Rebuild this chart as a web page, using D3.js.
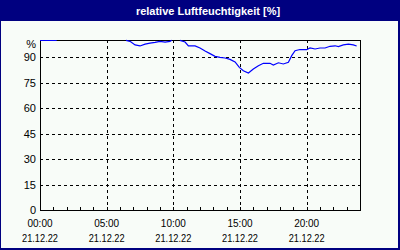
<!DOCTYPE html>
<html><head><meta charset="utf-8">
<script src="https://cdn.jsdelivr.net/npm/d3@7"></script>
<style>
html,body{margin:0;padding:0;background:#fff;}
svg{display:block;}
text{font-family:"Liberation Sans",sans-serif;}
</style>
</head><body>
<svg id="c" width="400" height="250"></svg>
<script>
const title = "relative Luftfeuchtigkeit [%]";
const unitLabel = "%";
const yTicks = [0, 15, 30, 45, 60, 75, 90];
const xTickHours = [0, 5, 10, 15, 20];
const xTimeLabels = ["00:00", "05:00", "10:00", "15:00", "20:00"];
const xDateLabels = ["21.12.22", "21.12.22", "21.12.22", "21.12.22", "21.12.22"];
// hours since 00:00 and relative humidity (%); null = gap
const hours = [0, 1.25, 1.26,
  6.45, 6.75, 7.13, 7.5, 7.88, 8.25, 8.63, 9.0, 9.38, 9.75, 9.88, 9.89,
  10.5, 10.88, 11.13, 11.63, 12.0, 12.38, 12.75, 13.13, 13.5, 13.88, 14.25, 14.63,
  14.95, 15.25, 15.63, 16.0, 16.38, 16.75, 17.25, 17.5, 17.88, 18.25, 18.63, 18.88,
  19.13, 19.5, 20.0, 20.25, 20.63, 21.0, 21.38, 21.75, 22.13, 22.38, 22.75, 23.13, 23.5, 23.75];
const humidity = [99.7, 99.7, null,
  99.8, 99.2, 97.1, 96.5, 97.6, 98.2, 98.6, 99.2, 98.8, 99.2, 99.8, null,
  99.8, 98.8, 96.5, 96.5, 95.3, 93.5, 92.0, 90.4, 89.8, 89.4, 88.6, 87.1,
  83.9, 81.9, 80.6, 82.9, 84.9, 86.3, 86.3, 85.3, 86.6, 85.9, 86.9, 90.8,
  93.7, 94.4, 94.3, 95.3, 94.7, 95.3, 95.3, 96.3, 96.6, 96.1, 97.1, 97.6, 97.1, 96.5];

const svg = d3.select("#c");
const W = 400, H = 250;
const x = d3.scaleLinear().domain([0, 24]).range([40, 360]);
const y = d3.scaleLinear().domain([0, 100]).range([210, 40]);

svg.append("rect").attr("x",0).attr("y",0).attr("width",W).attr("height",H).attr("fill","#000080");
svg.append("rect").attr("x",1).attr("y",21).attr("width",W-3).attr("height",H-23).attr("fill","#F8FCF8");

svg.append("text").attr("x",208).attr("y",15).attr("text-anchor","middle")
  .attr("fill","#fff").attr("font-weight","bold").attr("font-size","11px").text(title);

// grid
const g = svg.append("g");
g.selectAll(".hg").data(yTicks.filter(d=>d>0)).join("line")
  .attr("x1",x(0)).attr("x2",x(24)).attr("y1",d=>Math.round(y(d))+0.5).attr("y2",d=>Math.round(y(d))+0.5)
  .attr("stroke","#000").attr("stroke-dasharray","3,3").attr("shape-rendering","crispEdges");
g.selectAll(".vg").data(xTickHours.filter(d=>d>0)).join("line")
  .attr("x1",d=>Math.round(x(d))+0.5).attr("x2",d=>Math.round(x(d))+0.5).attr("y1",y(100)).attr("y2",y(0))
  .attr("stroke","#000").attr("stroke-dasharray","3,3").attr("shape-rendering","crispEdges");

// hourly ticks inside bottom
g.selectAll(".mt").data(d3.range(0,25)).join("line")
  .attr("x1",d=>Math.round(x(d))+0.5).attr("x2",d=>Math.round(x(d))+0.5)
  .attr("y1",y(0)).attr("y2",y(0)-3).attr("stroke","#000").attr("shape-rendering","crispEdges");

// frame
svg.append("rect").attr("x",40.5).attr("y",40.5).attr("width",320).attr("height",170)
  .attr("fill","none").attr("stroke","#000").attr("shape-rendering","crispEdges");

// y labels
svg.selectAll(".yl").data(yTicks).join("text")
  .attr("x",36).attr("y",d=>y(d)+4).attr("text-anchor","end").attr("font-size","11px").attr("fill","#000").text(d=>d);
svg.append("text").attr("x",36).attr("y",48).attr("text-anchor","end").attr("font-size","11px").text(unitLabel);

// x labels
svg.selectAll(".xl").data(xTickHours).join("text")
  .attr("x",d=>x(d)).attr("y",227).attr("text-anchor","middle").attr("font-size","11px")
  .attr("textLength",25).attr("lengthAdjust","spacingAndGlyphs").text((d,i)=>xTimeLabels[i]);
svg.selectAll(".xd").data(xTickHours).join("text")
  .attr("x",d=>x(d)).attr("y",242).attr("text-anchor","middle").attr("font-size","11px")
  .attr("textLength",36).attr("lengthAdjust","spacingAndGlyphs").text((d,i)=>xDateLabels[i]);

// data line
const data = hours.map((h,i)=>({h, v: humidity[i]}));
const line = d3.line().defined(d=>d.v!==null).x(d=>x(d.h)).y(d=>y(d.v));
svg.append("path").datum(data).attr("d",line).attr("fill","none").attr("stroke","#0000FF").attr("stroke-width",1.2);
</script>
</body></html>
